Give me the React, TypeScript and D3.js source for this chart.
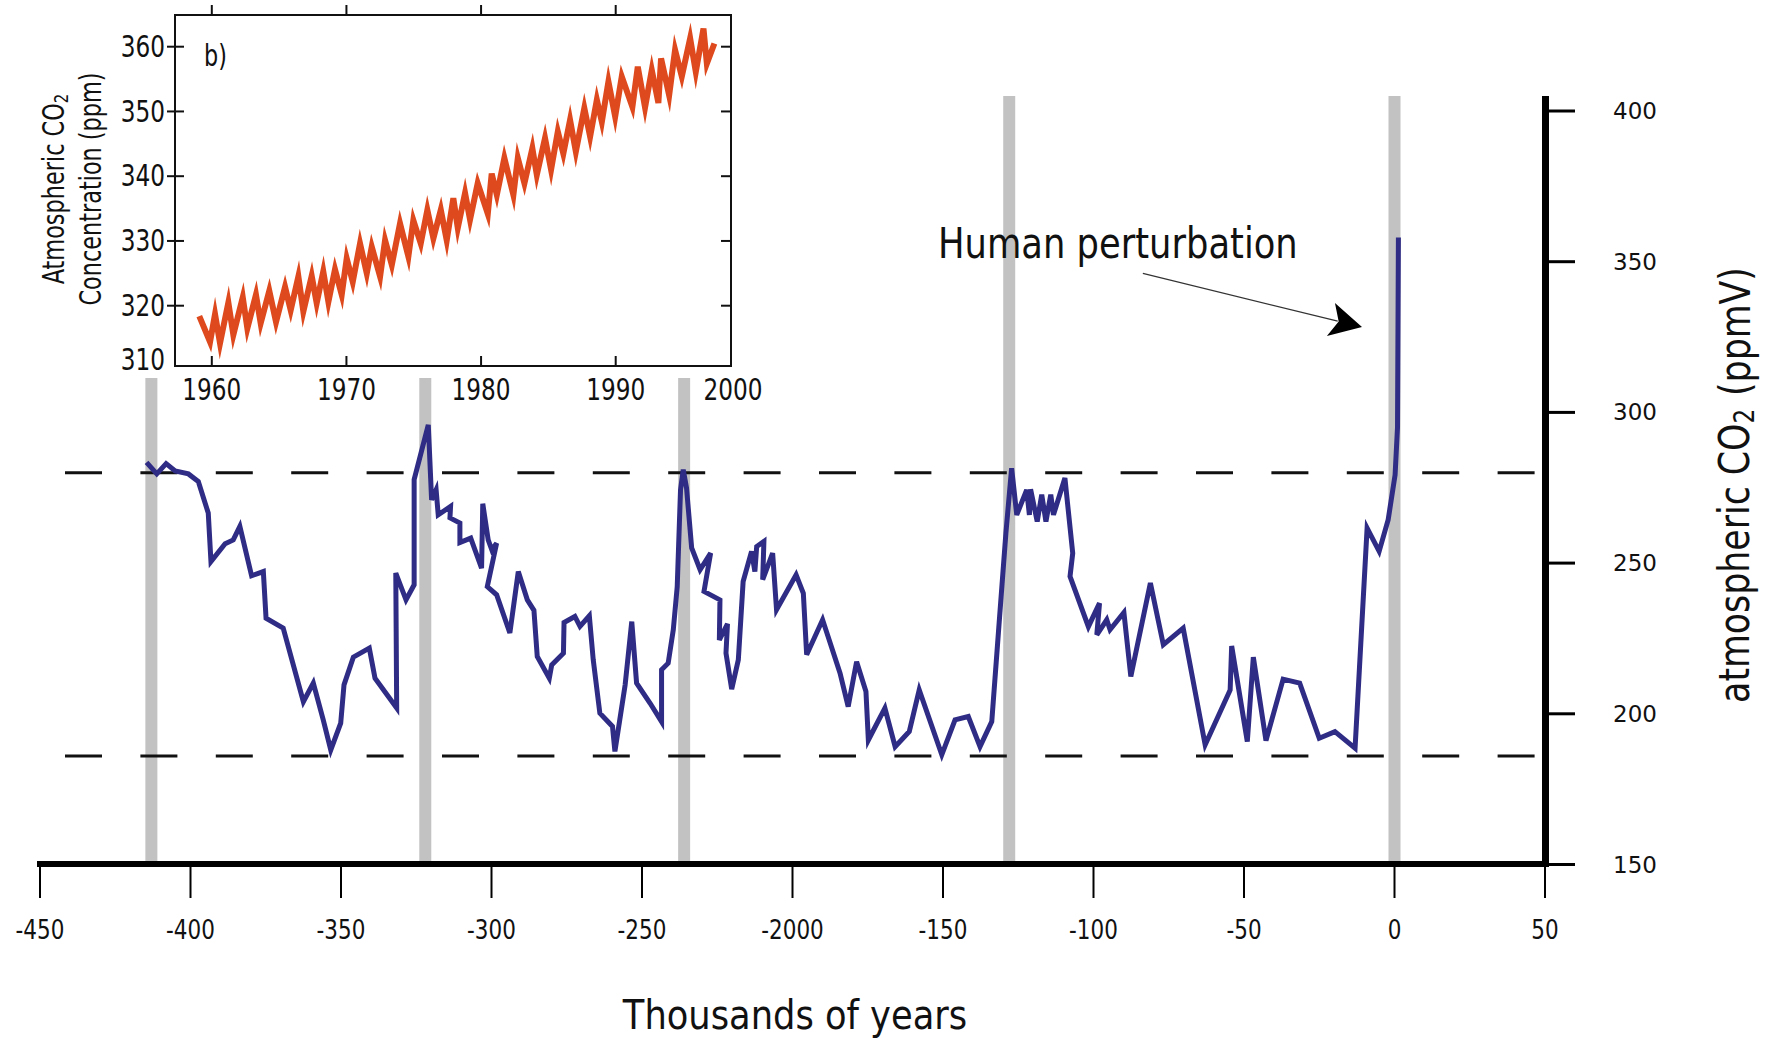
import React from "react";
import * as d3 from "d3";

// ---------- main panel data ----------
const xTickValues = [-450, -400, -350, -300, -250, -200, -150, -100, -50, 0, 50];
const xTickLabels = ["-450", "-400", "-350", "-300", "-250", "-2000", "-150", "-100", "-50", "0", "50"];
const yTickValues = [150, 200, 250, 300, 350, 400];
const glacialBounds = [280, 186];
const interglacialKyr = [-413, -322, -236, -128, 0];

const vostokKyr = [
  -414.6, -411.2, -408.1, -405.1, -400.7, -397.4, -394.1, -393.2, -388.5, -385.8, -383.6, -379.7, -375.8,
  -374.9, -369.2, -362.5, -359.2, -355.9, -353.4, -350.1, -349.0, -345.9, -340.6, -338.7, -331.5, -331.8,
  -328.4, -325.7, -325.7, -321.0, -319.9, -318.4, -317.7, -313.6, -313.8, -310.5, -310.5, -306.9, -303.3,
  -302.9, -301.1, -299.9, -298.3, -301.4, -298.3, -293.9, -291.1, -288.1, -285.9, -284.8, -280.8, -280.0,
  -276.1, -275.9, -272.3, -270.6, -267.5, -266.2, -264.0, -259.8, -259.0, -255.6, -253.4, -251.8, -247.3,
  -243.5, -243.5, -241.3, -239.6, -238.3, -237.2, -236.3, -235.2, -233.5, -230.7, -227.2, -229.4, -224.1,
  -224.3, -221.6, -222.1, -220.2, -218.0, -216.4, -213.6, -212.5, -211.9, -209.5, -209.9, -206.6, -205.3,
  -198.8, -196.4, -195.3, -190.0, -184.2, -181.5, -178.7, -175.6, -174.8, -169.3, -165.9, -161.2, -157.9,
  -150.4, -146.0, -141.6, -137.7, -133.8, -131.6, -129.1, -127.2, -125.5, -122.2, -121.3, -120.9, -118.7,
  -117.2, -115.8, -114.2, -113.3, -109.5, -106.9, -107.8, -101.7, -98.0, -98.9, -95.6, -94.5, -89.9,
  -87.6, -81.1, -76.8, -70.2, -62.9, -54.6, -54.1, -48.9, -46.9, -42.7, -37.0, -31.5, -25.0, -19.8,
  -13.1, -9.1, -5.1, -2.1, 0.2, 1.0, 1.3,
];
const vostokCO2 = [
  283.4, 279.6, 283.0, 280.6, 279.6, 277.1, 266.6, 250.5, 256.4, 257.7, 262.2, 245.8, 247.2,
  231.7, 228.4, 204.0, 210.2, 198.0, 188.0, 196.9, 209.6, 218.8, 221.8, 211.8, 201.9, 246.7,
  237.8, 242.8, 277.7, 295.9, 271.0, 274.3, 266.0, 268.8, 265.0, 263.3, 256.8, 258.3, 248.3,
  269.7, 257.7, 254.4, 256.6, 242.2, 239.5, 226.8, 247.2, 237.8, 234.3, 219.0, 211.8, 216.2,
  220.1, 230.3, 232.3, 229.0, 232.5, 217.9, 200.2, 195.8, 187.5, 209.6, 230.6, 210.2, 203.5,
  197.4, 214.6, 216.8, 227.9, 242.2, 274.3, 281.0, 274.9, 255.0, 247.8, 253.3, 240.6, 237.8,
  224.5, 229.8, 220.1, 208.2, 217.9, 243.9, 253.9, 247.2, 255.5, 257.2, 244.5, 253.3, 234.5,
  246.1, 240.0, 219.6, 231.2, 213.5, 202.4, 217.3, 207.4, 191.3, 201.9, 189.1, 194.1, 207.9,
  186.4, 198.0, 199.1, 189.1, 197.4, 226.8, 260.0, 281.5, 266.0, 274.3, 266.0, 274.5, 263.8,
  272.7, 263.8, 272.7, 266.0, 278.2, 253.3, 245.6, 228.9, 236.7, 226.2, 231.2, 227.9, 233.6,
  212.4, 243.4, 222.9, 228.4, 189.7, 207.9, 222.5, 190.8, 218.8, 191.1, 211.5, 210.2, 191.9, 194.1,
  188.6, 261.6, 253.9, 264.4, 279.3, 295.0, 358.0,
];

// ---------- inset (b) data ----------
const insetYearTicks = [1960, 1970, 1980, 1990, 2000];
const insetCO2Ticks = [310, 320, 330, 340, 350, 360];
const maunaLoaYear = [
  1959.07, 1959.87, 1960.24, 1960.61, 1961.23, 1961.6, 1962.3, 1962.64, 1963.28, 1963.63, 1964.27, 1964.77,
  1965.44, 1965.86, 1966.43, 1966.8, 1967.42, 1967.79, 1968.28, 1968.66, 1969.15, 1969.65, 1970.02, 1970.47,
  1971.01, 1971.51, 1971.88, 1972.5, 1972.87, 1973.37, 1973.98, 1974.6, 1974.97, 1975.52, 1976.01, 1976.46,
  1977.01, 1977.45, 1977.94, 1978.27, 1978.81, 1979.18, 1979.75, 1980.5, 1980.79, 1981.17, 1981.73, 1982.4,
  1982.73, 1983.22, 1983.81, 1984.14, 1984.75, 1985.2, 1985.7, 1986.11, 1986.61, 1987.04, 1987.67, 1988.1,
  1988.6, 1988.97, 1989.46, 1989.96, 1990.45, 1991.24, 1991.64, 1992.18, 1992.68, 1993.17, 1993.37, 1993.97,
  1994.41, 1994.91, 1995.53, 1995.95, 1996.52, 1996.77, 1997.33,
];
const maunaLoaCO2 = [
  318.4, 314.4, 318.7, 314.2, 320.5, 315.5, 321.3, 316.5, 321.7, 317.3, 322.3, 317.5,
  322.9, 319.3, 324.5, 319.1, 324.6, 320.4, 325.3, 320.6, 325.6, 321.7, 327.3, 323.7,
  329.6, 325.0, 329.1, 324.5, 330.1, 326.3, 332.7, 327.6, 333.2, 329.6, 334.8, 330.4,
  334.8, 330.1, 336.6, 332.0, 337.4, 333.3, 338.9, 334.2, 340.4, 337.1, 342.8, 337.1,
  342.8, 338.9, 344.3, 340.2, 345.9, 341.0, 346.9, 343.5, 348.7, 343.8, 350.5, 346.1,
  351.8, 348.4, 354.6, 349.2, 355.4, 350.7, 356.9, 350.6, 356.4, 351.3, 358.2, 352.5,
  359.5, 355.4, 361.3, 356.1, 362.8, 357.4, 360.5,
];

const COND = "'DejaVu Sans Condensed', 'DejaVu Sans', sans-serif";
const REG = "'DejaVu Sans', sans-serif";

type TxtProps = {
  x: number;
  y: number;
  size: number;
  sx?: number;
  rot?: number;
  anchor?: "start" | "middle" | "end";
  family?: string;
  children: React.ReactNode;
};

// text with optional horizontal compression (to mimic the narrow typeface of the original)
function Txt({ x, y, size, sx = 1, rot = 0, anchor = "start", family = COND, children }: TxtProps) {
  return (
    <g transform={`translate(${x},${y}) rotate(${rot}) scale(${sx},1)`}>
      <text x={0} y={0} textAnchor={anchor} dominantBaseline="central" fontFamily={family} fontSize={size} fill="#111">
        {children}
      </text>
    </g>
  );
}

export default function App() {
  const W = 1771;
  const H = 1041;

  // main scales
  const x = d3.scaleLinear().domain([-450, 50]).range([40, 1545]);
  const y = d3.scaleLinear().domain([150, 400]).range([864.5, 111]);
  const axisY = 864;
  const axisX = 1545.5;
  const barTop = 96;

  const mainLine = d3
    .line<number>()
    .x((d) => x(d))
    .y((_, i) => y(vostokCO2[i]))(vostokKyr) as string;

  // inset scales
  const ix = d3.scaleLinear().domain([1960, 1990]).range([211.8, 615.7]);
  const iy = d3.scaleLinear().domain([320, 360]).range([305.7, 46.7]);
  const fL = 175, fR = 731, fT = 15, fB = 366;
  const insetLine = d3
    .line<number>()
    .x((d) => ix(d))
    .y((_, i) => iy(maunaLoaCO2[i]))(maunaLoaYear) as string;

  // arrow annotation
  const arrowStart: [number, number] = [x(-83.6), y(346.1)];
  const arrowTip: [number, number] = [x(-10.8), y(328.3)];
  const ang = (Math.atan2(arrowTip[1] - arrowStart[1], arrowTip[0] - arrowStart[0]) * 180) / Math.PI;
  const cosA = Math.cos((ang * Math.PI) / 180);
  const sinA = Math.sin((ang * Math.PI) / 180);
  const notch: [number, number] = [arrowTip[0] - 25 * cosA, arrowTip[1] - 25 * sinA];

  return (
    <svg
      width={W}
      height={H}
      viewBox={`0 0 ${W} ${H}`}
      style={{ position: "absolute", left: 0, top: 0, display: "block", background: "#fff" }}
    >
      <rect x={0} y={0} width={W} height={H} fill="#fff" />

      {/* interglacial gray bars */}
      {interglacialKyr.map((k) => (
        <rect key={k} x={x(k) - 6} y={barTop} width={12} height={axisY - barTop} fill="#c2c2c2" />
      ))}

      {/* ===== inset b) ===== */}
      <rect x={0} y={0} width={770} height={378} fill="#fff" />
      <rect x={fL} y={fT} width={fR - fL} height={fB - fT} fill="none" stroke="#111" strokeWidth={2} />
      {insetCO2Ticks.filter((v) => v > 310).map((v) => (
        <g key={"iyt" + v}>
          <line x1={fL - 8} x2={fL + 9} y1={iy(v)} y2={iy(v)} stroke="#111" strokeWidth={2} />
          <line x1={fR - 10} x2={fR} y1={iy(v)} y2={iy(v)} stroke="#111" strokeWidth={2} />
        </g>
      ))}
      {insetCO2Ticks.map((v) => (
        <Txt key={"iyl" + v} x={165} y={Math.min(iy(v), fB - 6)} size={30} sx={0.86} anchor="end">
          {v}
        </Txt>
      ))}
      {insetYearTicks.filter((v) => v < 2000).map((v) => (
        <g key={"ixt" + v}>
          <line x1={ix(v)} x2={ix(v)} y1={fT - 10} y2={fT} stroke="#111" strokeWidth={2} />
          <line x1={ix(v)} x2={ix(v)} y1={fB - 10} y2={fB} stroke="#111" strokeWidth={2} />
        </g>
      ))}
      {insetYearTicks.map((v) => (
        <Txt key={"ixl" + v} x={Math.min(ix(v), fR + 2)} y={390} size={30} sx={0.86} anchor="middle">
          {v}
        </Txt>
      ))}
      <path d={insetLine} fill="none" stroke="#de4a1d" strokeWidth={6} strokeLinejoin="miter" strokeMiterlimit={6} />
      <Txt x={204} y={56} size={31} sx={0.8}>
        b)
      </Txt>
      <Txt x={53} y={189} size={30} sx={0.83} rot={-90} anchor="middle">
        Atmospheric CO
        <tspan fontSize={20} dy={7}>2</tspan>
      </Txt>
      <Txt x={90} y={189} size={30} sx={0.83} rot={-90} anchor="middle">
        Concentration (ppm)
      </Txt>

      {/* glacial/interglacial bounds */}
      {glacialBounds.map((v) => (
        <line
          key={"gb" + v}
          x1={65}
          x2={1536}
          y1={y(v)}
          y2={y(v)}
          stroke="#111"
          strokeWidth={3}
          strokeDasharray="37 38.4"
        />
      ))}

      {/* Vostok CO2 record */}
      <path d={mainLine} fill="none" stroke="#2f2c85" strokeWidth={5} strokeLinejoin="miter" strokeMiterlimit={4} />

      {/* axes */}
      <line x1={37} x2={axisX + 3} y1={axisY} y2={axisY} stroke="#000" strokeWidth={6} />
      <line x1={axisX} x2={axisX} y1={barTop} y2={axisY + 3} stroke="#000" strokeWidth={7} />
      {xTickValues.map((v, i) => (
        <g key={"xt" + v}>
          <line x1={x(v)} x2={x(v)} y1={axisY} y2={898} stroke="#000" strokeWidth={2} />
          <Txt x={x(v)} y={930} size={26} sx={0.92} anchor="middle">
            {xTickLabels[i]}
          </Txt>
        </g>
      ))}
      {yTickValues.map((v) => (
        <g key={"yt" + v}>
          <line x1={axisX} x2={1575} y1={y(v)} y2={y(v)} stroke="#000" strokeWidth={3} />
          <Txt x={1613} y={y(v)} size={23} family={REG}>
            {v}
          </Txt>
        </g>
      ))}

      <Txt x={795} y={1015} size={40} sx={0.98} anchor="middle">
        Thousands of years
      </Txt>
      <Txt x={1735} y={485} size={42} sx={0.92} rot={-90} anchor="middle">
        atmospheric CO
        <tspan fontSize={28} dy={9}>2</tspan>
        <tspan dy={-9} dx={14}>(ppmV)</tspan>
      </Txt>

      {/* annotation */}
      <Txt x={938} y={244} size={42} sx={0.935}>
        Human perturbation
      </Txt>
      <line x1={arrowStart[0]} y1={arrowStart[1]} x2={notch[0]} y2={notch[1]} stroke="#333" strokeWidth={1.2} />
      <path
        d="M0,0 L-32,-17 L-24,0 L-32,17 Z"
        transform={`translate(${arrowTip[0]},${arrowTip[1]}) rotate(${ang})`}
        fill="#000"
      />
    </svg>
  );
}
